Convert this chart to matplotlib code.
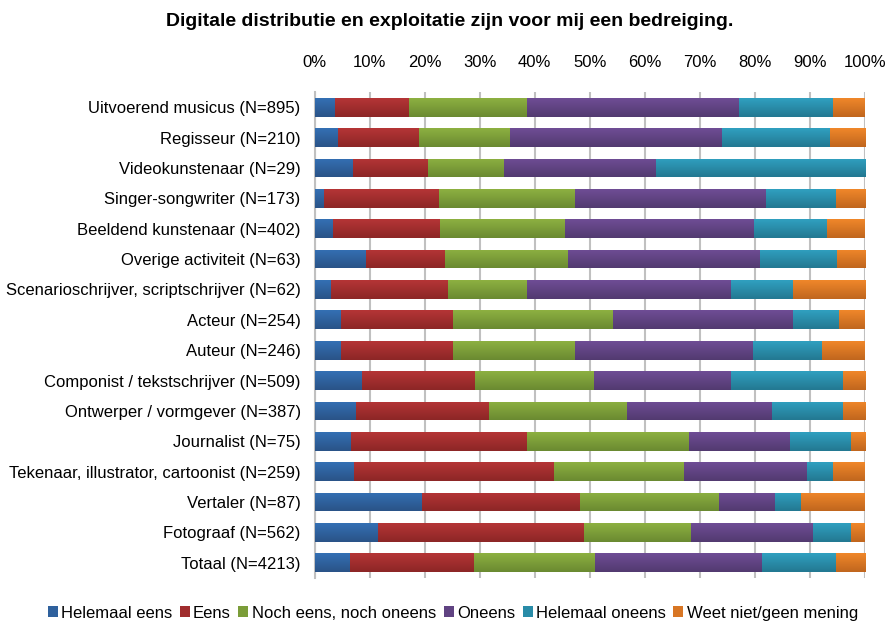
import numpy as np
import matplotlib.pyplot as plt
from matplotlib.colors import LinearSegmentedColormap

plt.rcParams['font.family'] = ['Liberation Sans', 'DejaVu Sans']

title = "Digitale distributie en exploitatie zijn voor mij een bedreiging."

groups = [
    "Uitvoerend musicus (N=895)",
    "Regisseur (N=210)",
    "Videokunstenaar (N=29)",
    "Singer-songwriter (N=173)",
    "Beeldend kunstenaar (N=402)",
    "Overige activiteit (N=63)",
    "Scenarioschrijver, scriptschrijver (N=62)",
    "Acteur (N=254)",
    "Auteur (N=246)",
    "Componist / tekstschrijver (N=509)",
    "Ontwerper / vormgever (N=387)",
    "Journalist (N=75)",
    "Tekenaar, illustrator, cartoonist (N=259)",
    "Vertaler (N=87)",
    "Fotograaf (N=562)",
    "Totaal (N=4213)",
]

answers = ["Helemaal eens", "Eens", "Noch eens, noch oneens",
           "Oneens", "Helemaal oneens", "Weet niet/geen mening"]

# percentages per answer, same order as groups
helemaal_eens = [3.7, 4.2, 7.0, 1.7, 3.4, 9.3, 3.0, 4.8, 4.8, 8.6, 7.5, 6.6, 7.2, 19.5, 11.5, 6.4]
eens = [13.5, 14.8, 13.7, 20.9, 19.4, 14.4, 21.3, 20.4, 20.4, 20.6, 24.2, 32.0, 36.3, 28.7, 37.5, 22.6]
noch = [21.4, 16.5, 13.7, 24.7, 22.7, 22.3, 14.3, 29.0, 22.1, 21.6, 25.1, 29.4, 23.6, 25.3, 19.4, 22.0]
oneens = [38.5, 38.5, 27.6, 34.7, 34.3, 34.9, 37.1, 32.7, 32.4, 24.9, 26.3, 18.4, 22.4, 10.2, 22.2, 30.3]
helemaal_oneens = [17.1, 19.6, 38.0, 12.7, 13.3, 14.0, 11.2, 8.4, 12.5, 20.3, 12.9, 11.0, 4.7, 4.7, 6.9, 13.4]
weet_niet = [5.8, 6.4, 0.0, 5.3, 6.9, 5.1, 13.1, 4.7, 7.8, 4.0, 4.0, 2.6, 5.8, 11.6, 2.5, 5.3]

# (top, bottom) shade of each bar, Excel style gradient
shades = [("#3470B4", "#2A5387"), ("#B53536", "#8C2626"), ("#8DB041", "#6A8A31"),
          ("#6F4D95", "#523A70"), ("#30A0C0", "#237891"), ("#F0872A", "#C0661E")]

series = [helemaal_eens, eens, noch, oneens, helemaal_oneens, weet_niet]

fig = plt.figure(figsize=(8.86, 6.25), dpi=100)
ax = fig.add_axes([0.355, 0.0752, 0.6213, 0.7776])

grad = np.linspace(0, 1, 64).reshape(-1, 1)
y = np.arange(len(groups))
left = np.zeros(len(groups))
for vals, name, (top, bot) in zip(series, answers, shades):
    vals = np.array(vals)
    cmap = LinearSegmentedColormap.from_list(name, [top, bot])
    bars = ax.barh(y, vals, left=left, height=0.62, color=cmap(0.5), label=name, zorder=2)
    # paint gradient on top of each bar
    for p in bars.patches:
        x0, y0, w, h = p.get_x(), p.get_y(), p.get_width(), p.get_height()
        if w <= 0:
            continue
        im = ax.imshow(grad, cmap=cmap, aspect='auto', interpolation='bicubic',
                       extent=[x0, x0 + w, y0 + h, y0], zorder=3)
        im.set_clip_path(p)
    left += vals

ax.set_xlim(0, 100)
ax.set_ylim(len(groups) - 0.5, -0.5)
ax.set_yticks(y)
ax.set_yticklabels(groups, fontsize=12)
ax.set_xticks(np.arange(0, 101, 10))
ax.set_xticklabels([f"{v}%" for v in range(0, 101, 10)], fontsize=12)
ax.xaxis.tick_top()
ax.tick_params(axis='x', length=0, pad=16)
ax.tick_params(axis='y', length=0, pad=10)
ax.grid(axis='x', color='#C0C0C0', linewidth=1.5, zorder=0)
ax.set_axisbelow(True)
for s in ['top', 'right', 'bottom']:
    ax.spines[s].set_visible(False)
ax.spines['left'].set_color('#C0C0C0')
ax.spines['left'].set_linewidth(1.5)

fig.text(0.508, 0.966, title, ha='center', va='center', fontsize=14, fontweight='bold')

fig.legend(loc='center', bbox_to_anchor=(0.511, 0.019), ncol=6, frameon=False,
           fontsize=12, handlelength=0.6, handleheight=0.6, handletextpad=0.2,
           columnspacing=0.45)

fig.savefig("out.png", dpi=100)
